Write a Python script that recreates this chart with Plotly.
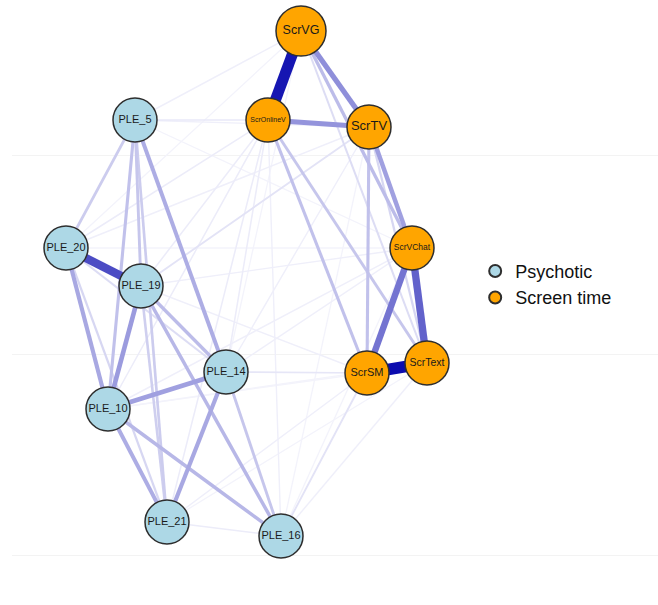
import plotly.graph_objects as go

# Node names, groups and layout coordinates
node_names = ["ScrVG", "ScrOnlineV", "ScrTV", "ScrVChat", "ScrSM", "ScrText",
              "PLE_5", "PLE_20", "PLE_19", "PLE_14", "PLE_10", "PLE_21", "PLE_16"]
node_group = ["Screen time"] * 6 + ["Psychotic"] * 7
node_x = [301, 268, 369, 412, 367, 427, 135, 66, 141, 226, 108, 167, 281]
node_y = [31, 120, 127, 248, 373, 363, 120, 248, 286, 372, 409, 522, 536]

# Edges (partial correlations, positive)
edge_from = ["ScrVG", "ScrSM", "PLE_20", "ScrVChat", "ScrVChat", "ScrVG", "ScrOnlineV",
             "ScrTV", "PLE_10", "PLE_19", "PLE_14", "PLE_5", "PLE_20", "PLE_10", "PLE_10",
             "PLE_19", "PLE_19", "ScrVG", "ScrTV", "ScrOnlineV", "ScrOnlineV", "PLE_5",
             "PLE_5", "PLE_5", "PLE_5", "PLE_14", "PLE_19", "PLE_20", "PLE_20", "ScrTV",
             "ScrVG", "PLE_16", "PLE_14", "PLE_5", "PLE_19",
             "PLE_20", "PLE_19", "PLE_20", "PLE_10", "PLE_14", "PLE_14", "PLE_16",
             "PLE_21", "PLE_16", "PLE_21", "PLE_16", "PLE_19", "PLE_10", "PLE_5",
             "PLE_5", "PLE_20", "PLE_14", "PLE_21", "PLE_10", "PLE_19", "PLE_14",
             "PLE_5", "PLE_20", "PLE_10", "PLE_21", "PLE_16"]
edge_to = ["ScrOnlineV", "ScrText", "PLE_19", "ScrText", "ScrSM", "ScrTV", "ScrTV",
           "ScrVChat", "PLE_14", "PLE_10", "PLE_21", "PLE_14", "PLE_10", "PLE_21", "PLE_16",
           "PLE_16", "PLE_14", "ScrVChat", "ScrSM", "ScrSM", "ScrText", "PLE_10",
           "PLE_19", "PLE_21", "PLE_20", "PLE_16", "PLE_21", "PLE_21", "PLE_14", "ScrText",
           "ScrText", "ScrSM", "ScrSM", "ScrOnlineV", "ScrTV",
           "ScrOnlineV", "ScrOnlineV", "ScrTV", "ScrOnlineV", "ScrOnlineV", "ScrTV",
           "ScrOnlineV", "ScrOnlineV", "ScrText", "ScrSM", "ScrVChat", "ScrVChat",
           "ScrVChat", "ScrTV", "ScrVG", "ScrVG", "ScrVChat", "PLE_16", "ScrSM",
           "ScrSM", "ScrVG", "ScrVChat", "ScrVChat", "ScrText", "ScrText", "ScrTV"]
edge_weight = [0.95, 1.00, 0.70, 0.60, 0.52, 0.40, 0.38,
               0.33, 0.33, 0.35, 0.30, 0.28, 0.30, 0.28, 0.24,
               0.24, 0.22, 0.22, 0.20, 0.20, 0.18, 0.20,
               0.18, 0.16, 0.16, 0.18, 0.15, 0.12, 0.10, 0.12,
               0.10, 0.08, 0.07, 0.06, 0.08,
               0.05, 0.05, 0.04, 0.05, 0.05, 0.04, 0.04,
               0.05, 0.04, 0.04, 0.03, 0.04, 0.04, 0.04,
               0.04, 0.03, 0.04, 0.05, 0.03, 0.04, 0.03,
               0.03, 0.03, 0.03, 0.03, 0.03]

group_colors = {"Psychotic": "#ADD8E6", "Screen time": "#FFA500"}
label_sizes = {"ScrVG": 12.5, "ScrOnlineV": 7, "ScrTV": 13, "ScrVChat": 8.5,
               "ScrSM": 11, "ScrText": 10.5}
node_sizes = {"ScrVG": 50}

pos = {n: (x, y) for n, x, y in zip(node_names, node_x, node_y)}


def edge_color(w):
    f = min(1.0, w ** 0.85)
    base = (12, 12, 175)
    r, g, b = (round(255 - f * (255 - c)) for c in base)
    return f"rgb({r},{g},{b})"


fig = go.Figure()

# Edges, weakest first so strong ones sit on top
for a, b, w in sorted(zip(edge_from, edge_to, edge_weight), key=lambda t: t[2]):
    (x0, y0), (x1, y1) = pos[a], pos[b]
    fig.add_trace(go.Scatter(
        x=[x0, x1], y=[y0, y1], mode="lines",
        line=dict(color=edge_color(w), width=1 + 10.5 * w),
        hoverinfo="skip", showlegend=False))

# Nodes per group
for grp in ["Psychotic", "Screen time"]:
    idx = [i for i, g in enumerate(node_group) if g == grp]
    fig.add_trace(go.Scatter(
        x=[node_x[i] for i in idx], y=[node_y[i] for i in idx],
        mode="markers+text",
        text=[node_names[i] for i in idx],
        textposition="middle center",
        textfont=dict(family="Liberation Sans, Arial, sans-serif", color="#1a1a1a",
                      size=[label_sizes.get(node_names[i], 11) for i in idx]),
        marker=dict(size=[node_sizes.get(node_names[i], 44) for i in idx],
                    color=group_colors[grp], opacity=1,
                    line=dict(color="#2e2e2e", width=1.5)),
        hoverinfo="text", showlegend=False))

# Legend entries
for grp in ["Psychotic", "Screen time"]:
    fig.add_trace(go.Scatter(
        x=[None], y=[None], mode="markers", name=grp,
        marker=dict(size=9, color=group_colors[grp], opacity=1,
                    line=dict(color="#2e2e2e", width=1))))

fig.update_layout(
    width=658, height=605,
    margin=dict(l=12, r=0, t=0, b=0),
    plot_bgcolor="white", paper_bgcolor="white",
    xaxis=dict(range=[12, 658], showgrid=False, zeroline=False,
               showticklabels=False, fixedrange=True),
    yaxis=dict(range=[605, 0], showgrid=True, gridcolor="#f3f3f3", gridwidth=1,
               tickvals=[155, 354, 555], zeroline=False, showticklabels=False,
               fixedrange=True),
    legend=dict(x=0.717, y=0.53, xanchor="left", yanchor="middle",
                font=dict(family="Liberation Sans, Arial, sans-serif", size=18,
                          color="#111111"),
                itemsizing="constant", tracegroupgap=0, bgcolor="rgba(0,0,0,0)"),
)

fig.write_html("out.html")
